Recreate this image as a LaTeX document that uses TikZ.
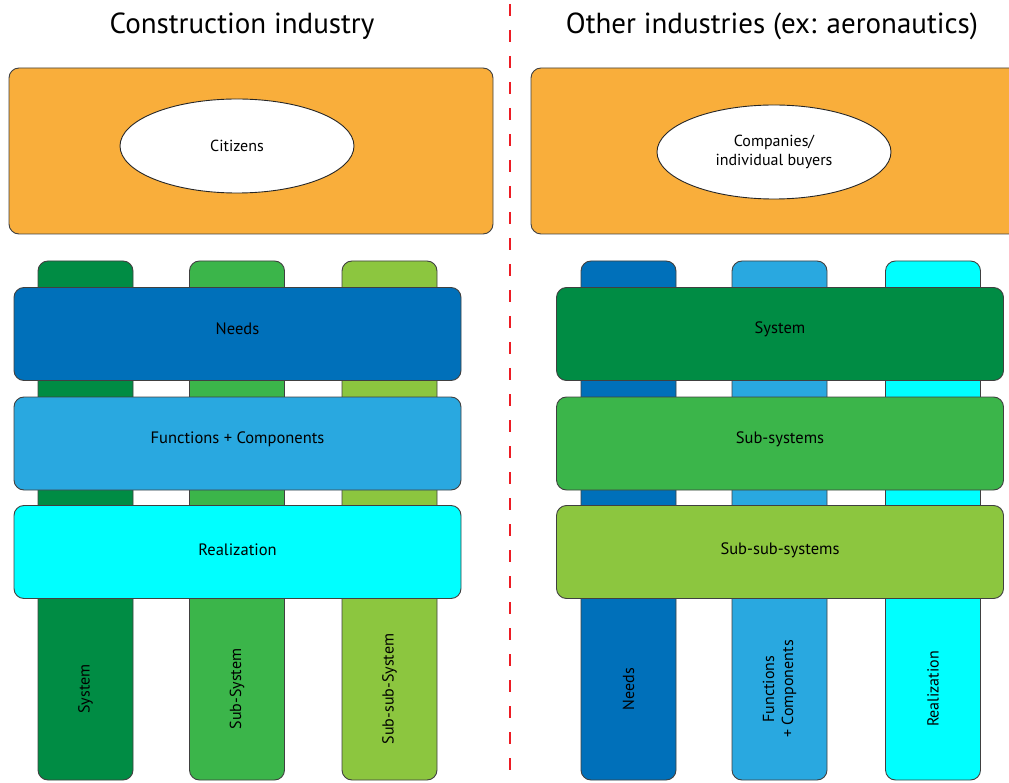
\documentclass[tikz,border=0pt]{standalone}
\usepackage{fontspec}
\setmainfont{PT Sans}
\usetikzlibrary{shapes.geometric}

\definecolor{orangebox}{HTML}{F9AE3B}
\definecolor{needsblue}{HTML}{0070BA}
\definecolor{funcblue}{HTML}{29A8E0}
\definecolor{realcyan}{HTML}{00FFFF}
\definecolor{sysgreen}{HTML}{008C44}
\definecolor{subgreen}{HTML}{3BB54A}
\definecolor{subsubgreen}{HTML}{8CC63F}
\definecolor{splitred}{HTML}{EC1C24}

\begin{document}
\begin{tikzpicture}[x=1pt,y=-1pt,
  box/.style={draw=black!75,line width=0.9pt,rounded corners=10pt,inner sep=0pt},
  pillar/.style={box,minimum width=95pt,minimum height=519pt},
  beam/.style={box,minimum width=447pt,minimum height=93pt},
  oval/.style={ellipse,draw=black!85,line width=0.9pt,fill=white,minimum width=234pt,minimum height=94pt,inner sep=0pt,align=center,font=\fontsize{16}{19}\selectfont},
  hlbl/.style={font=\fontsize{16.5}{19}\selectfont},
  vlbl/.style={rotate=90,align=center,font=\fontsize{16}{19}\selectfont},
  title/.style={font=\fontsize{29}{33}\selectfont}]
\useasboundingbox (0,0) rectangle (1009,783);
\clip (0,0) rectangle (1009,783);
% titles and separator
\node[title] (lefttitle) at (242,26) {Construction industry};
\node[title] (righttitle) at (772,26) {Other industries (ex: aeronautics)};
\coordinate (septop) at (510,4);
\coordinate (sepbot) at (510,783);
\draw[splitred,line width=1.4pt,dash pattern=on 12pt off 14pt] (septop)--(sepbot);
% clients
\node[box,fill=orangebox,minimum width=484pt,minimum height=166pt] (leftclient) at (251,151) {};
\node[oval] (citizens) at (237,146) {Citizens};
\node[box,fill=orangebox,minimum width=500pt,minimum height=166pt] (rightclient) at (781,151) {};
\node[oval] (buyers) at (774,152) {Companies/\\individual buyers};
% construction industry
\node[pillar,fill=sysgreen] (lsys) at (85.5,520.5) {};
\node[pillar,fill=subgreen] (lsub) at (237,520.5) {};
\node[pillar,fill=subsubgreen] (lsubsub) at (389.5,520.5) {};
\node[beam,fill=needsblue] (lneeds) at (237.5,334) {};
\node[beam,fill=funcblue] (lfunc) at (237.5,443.5) {};
\node[beam,fill=realcyan] (lreal) at (237.5,552) {};
\node[hlbl] (lneedslbl) at (237.5,329) {Needs};
\node[hlbl] (lfunclbl) at (237.5,439) {Functions + Components};
\node[hlbl] (lreallbl) at (237.5,550) {Realization};
\node[vlbl] (lsyslbl) at (85.5,689) {System};
\node[vlbl] (lsublbl) at (237,689) {Sub-System};
\node[vlbl] (lsubsublbl) at (389.5,689) {Sub-sub-System};
% other industries
\node[pillar,fill=needsblue] (rneeds) at (628.5,520.5) {};
\node[pillar,fill=funcblue] (rfunc) at (779.5,520.5) {};
\node[pillar,fill=realcyan] (rreal) at (933,520.5) {};
\node[beam,fill=sysgreen] (rsys) at (780,334) {};
\node[beam,fill=subgreen] (rsub) at (780,443.5) {};
\node[beam,fill=subsubgreen] (rsubsub) at (780,552) {};
\node[hlbl] (rsyslbl) at (780,329) {System};
\node[hlbl] (rsublbl) at (780,439) {Sub-systems};
\node[hlbl] (rsubsublbl) at (780,550) {Sub-sub-systems};
\node[vlbl] (rneedslbl) at (628.5,689) {Needs};
\node[vlbl] (rfunclbl) at (779.5,689) {Functions\\+ Components};
\node[vlbl] (rreallbl) at (933,689) {Realization};
\end{tikzpicture}
\end{document}
